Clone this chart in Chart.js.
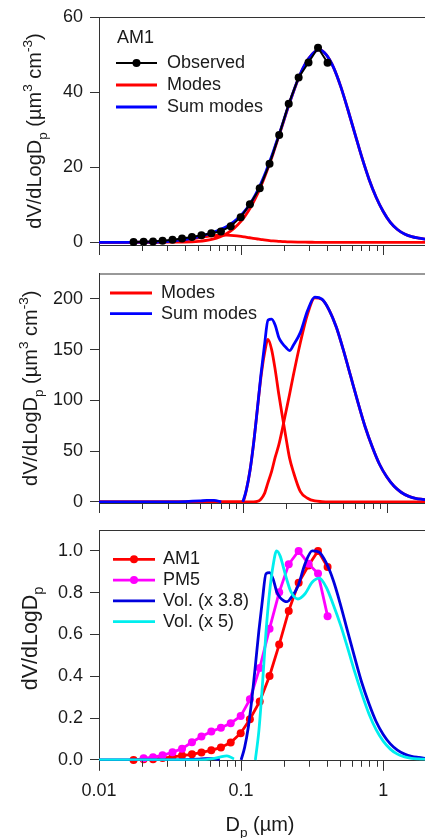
<!DOCTYPE html>
<html>
<head>
<meta charset="utf-8">
<script src="https://cdn.jsdelivr.net/npm/chart.js@4.4.1/dist/chart.umd.min.js"></script>
<style>
  html, body { margin: 0; padding: 0; background: #fff; overflow: hidden; }
  #wrap { position: relative; width: 425px; height: 838px; overflow: hidden; }
  #wrap canvas { position: absolute; left: 0; }
</style>
</head>
<body>
<div id="wrap">
  <canvas id="am1Chart" width="430" height="262" style="top:0"></canvas>
  <canvas id="modeChart" width="430" height="263" style="top:262px"></canvas>
  <canvas id="normChart" width="430" height="313" style="top:525px"></canvas>
</div>
<script>
// diameter grid (um) used by the fitted mode curves
const sizeGrid = [0.01, 0.0126, 0.0158, 0.02, 0.0251, 0.0316, 0.0398, 0.0501, 0.0562, 0.0631,
  0.0708, 0.0794, 0.0891, 0.1, 0.1059, 0.1122, 0.1189, 0.1259, 0.1334, 0.1413,
  0.1496, 0.1585, 0.1679, 0.1778, 0.1884, 0.1995, 0.2113, 0.2239, 0.2512, 0.2818,
  0.3162, 0.3548, 0.3981, 0.4467, 0.5012, 0.5623, 0.631, 0.7079, 0.7943, 0.8913,
  1.0, 1.122, 1.259, 1.413, 1.585, 1.778, 1.995];

// AM1 measured size bins
const obsSizes = [0.0175, 0.0206, 0.024, 0.028, 0.0329, 0.0384, 0.0451, 0.0526, 0.0617, 0.0721,
  0.0845, 0.0993, 0.1153, 0.1352, 0.1585, 0.1853, 0.2163, 0.254, 0.298, 0.3477, 0.406];
const am1Observed = [0.1, 0.15, 0.2, 0.4, 0.7, 1.0, 1.4, 1.9, 2.4, 2.9,
  4.3, 6.7, 10.1, 14.4, 20.9, 28.6, 36.9, 43.9, 47.9, 51.8, 47.8];

// top panel: two lognormal modes and their sum
const am1ModeSmall = [0, 0, 0, 0.02, 0.08, 0.26, 0.64, 1.21, 1.5, 1.74,
  1.88, 1.89, 1.78, 1.56, 1.42, 1.27, 1.12, 0.97, 0.83, 0.69,
  0.57, 0.46, 0.37, 0.29, 0.22, 0.17, 0.12, 0.09, 0.05, 0.02,
  0.01, 0, 0, 0, 0, 0, 0, 0, 0, 0,
  0, 0, 0, 0, 0, 0, 0];
const am1ModeLarge = [0, 0, 0, 0, 0, 0.02, 0.07, 0.26, 0.48, 0.85,
  1.44, 2.35, 3.71, 5.64, 6.85, 8.26, 9.86, 11.67, 13.68, 15.9,
  18.3, 20.9, 23.6, 26.5, 29.4, 32.3, 35.3, 38.1, 43.3, 47.4,
  50.1, 51.3, 49.9, 46.6, 41.6, 35.5, 29.0, 22.6, 16.8, 12.0,
  8.2, 5.3, 3.4, 2.2, 1.5, 1.1, 0.8];
const am1SumModes = [0, 0, 0, 0.02, 0.08, 0.28, 0.71, 1.47, 1.98, 2.59,
  3.32, 4.24, 5.49, 7.2, 8.27, 9.53, 10.98, 12.64, 14.51, 16.59,
  18.87, 21.36, 23.97, 26.79, 29.62, 32.47, 35.42, 38.19, 43.35, 47.42,
  50.11, 51.3, 49.9, 46.6, 41.6, 35.5, 29.0, 22.6, 16.8, 12.0,
  8.2, 5.3, 3.4, 2.2, 1.5, 1.1, 0.8];

// middle panel: volume modes
const volModeFine = [0, 0, 0, 0, 0, 0, 0, 0, 0, 0,
  0, 0, 0, 0, 12, 31, 58, 90, 122, 146,
  160, 150, 130, 106, 84, 63, 43, 30, 10, 3.5,
  0.8, 0.2, 0, 0, 0, 0, 0, 0, 0, 0,
  0, 0, 0, 0, 0, 0, 0];
const volModeCoarse = [0, 0, 0, 0, 0, 0, 0, 0, 0, 0,
  0, 0, 0, 0, 0, 0, 0, 0.3, 2.5, 8,
  19, 30, 44, 56, 72, 89, 106, 124, 157, 185,
  201, 199.5, 189, 172, 149, 123.5, 98, 74, 54, 37,
  24.6, 15.5, 9.4, 5.6, 3.4, 2.4, 1.7];
const volSumModes = [0, 0, 0, 0, 0, 0, 0.2, 0.8, 1.3, 1.3,
  0, null, null, 0, 12, 31, 58, 90.3, 124.5, 154,
  179, 180, 174, 162, 156, 152, 149, 154, 167, 188.5,
  201.8, 199.7, 189, 172, 149, 123.5, 98, 74, 54, 37,
  24.6, 15.5, 9.4, 5.6, 3.4, 2.4, 1.7];

// bottom panel: normalised distributions
const am1Norm = [0, 0.003, 0.004, 0.009, 0.015, 0.021, 0.027, 0.036, 0.046, 0.06,
  0.083, 0.128, 0.195, 0.28, 0.402, 0.552, 0.713, 0.848, 0.93, 1.0, 0.923];
const pm5Sizes = [0.0206, 0.024, 0.028, 0.0329, 0.0384, 0.0451, 0.0526, 0.0617, 0.0721, 0.0845,
  0.0993, 0.1153, 0.1352, 0.1585, 0.1853, 0.2163, 0.254, 0.298, 0.3477, 0.406];
const pm5Norm = [0.008, 0.013, 0.022, 0.037, 0.054, 0.085, 0.112, 0.136, 0.154, 0.176,
  0.21, 0.29, 0.44, 0.628, 0.802, 0.936, 1.0, 0.938, 0.892, 0.688];
const volScaled38 = [0, 0, 0, 0, 0, 0, 0.001, 0.004, 0.0065, 0.0065,
  0, null, null, 0, 0.06, 0.154, 0.289, 0.449, 0.619, 0.766,
  0.891, 0.896, 0.866, 0.806, 0.776, 0.762, 0.757, 0.775, 0.831, 0.938,
  1.0, 0.994, 0.941, 0.856, 0.741, 0.614, 0.488, 0.368, 0.269, 0.184,
  0.122, 0.077, 0.047, 0.028, 0.017, 0.012, 0.008];
const volScaled5 = [0, 0, 0, 0, 0, 0, 0, 0, 0.002, 0.006,
  0.014, 0.02, 0.005, null, null, null, null, 0, 0.14, 0.36,
  0.61, 0.8, 0.93, 1.0, 0.975, 0.915, 0.855, 0.805, 0.77, 0.795,
  0.85, 0.87, 0.825, 0.74, 0.645, 0.535, 0.42, 0.315, 0.22, 0.145,
  0.09, 0.052, 0.028, 0.015, 0.008, 0.005, 0.003];

// axis ticks
const xTickValues = [0.01, 0.02, 0.03, 0.04, 0.05, 0.06, 0.07, 0.08, 0.09,
  0.1, 0.2, 0.3, 0.4, 0.5, 0.6, 0.7, 0.8, 0.9, 1, 2];
const xMajorTicks = [0.01, 0.1, 1];
const yTicksAm1 = [0, 20, 40, 60];
const yTicksVol = [0, 50, 100, 150, 200];
const yTicksNorm = [0, 0.2, 0.4, 0.6, 0.8, 1.0];

const fontFamily = '"Liberation Sans", Arial, Helvetica, sans-serif';
const axisColor = '#333';
const textColor = '#1a1a1a';
Chart.defaults.font.family = fontFamily;
Chart.defaults.color = textColor;

const pts = (xs, ys) => xs.map((x, i) => ({ x: x, y: ys[i] }));

function curve(label, xs, ys, color, order) {
  return {
    label: label, data: pts(xs, ys), order: order,
    borderColor: color, backgroundColor: color, borderWidth: 2.8,
    pointRadius: 0, cubicInterpolationMode: 'monotone'
  };
}

function markers(label, xs, ys, color, order, width) {
  return {
    label: label, data: pts(xs, ys), order: order, clip: false,
    borderColor: color, backgroundColor: color, borderWidth: width,
    pointRadius: 4, pointBorderWidth: 0, pointBackgroundColor: color, tension: 0
  };
}

// frame line on top and the log ticks under the bottom axis
const frame = {
  id: 'frame',
  afterDraw(chart) {
    const { ctx, chartArea: a, scales: { x } } = chart;
    ctx.save();
    ctx.strokeStyle = axisColor;
    ctx.lineWidth = 1;
    ctx.beginPath();
    ctx.moveTo(a.left, a.top + 0.5);
    ctx.lineTo(a.right, a.top + 0.5);
    x.ticks.forEach(t => {
      const px = Math.round(x.getPixelForValue(t.value)) + 0.5;
      const len = xMajorTicks.includes(t.value) ? 10 : 6;
      ctx.moveTo(px, a.bottom);
      ctx.lineTo(px, a.bottom + len);
    });
    ctx.stroke();
    ctx.restore();
  }
};

// text runs with sub/superscripts, centred on (0,0)
function drawRuns(ctx, runs, size) {
  const small = size * 0.68;
  let total = 0;
  runs.forEach(r => {
    ctx.font = (r.sub || r.sup ? small : size) + 'px ' + fontFamily;
    total += ctx.measureText(r.t).width;
  });
  let x = -total / 2;
  runs.forEach(r => {
    ctx.font = (r.sub || r.sup ? small : size) + 'px ' + fontFamily;
    const dy = r.sub ? size * 0.3 : r.sup ? -size * 0.45 : 0;
    ctx.fillText(r.t, x, dy);
    x += ctx.measureText(r.t).width;
  });
}

const axisTitles = {
  id: 'axisTitles',
  afterDraw(chart, args, o) {
    const { ctx, chartArea: a } = chart;
    ctx.save();
    ctx.fillStyle = textColor;
    ctx.textBaseline = 'alphabetic';
    ctx.textAlign = 'left';
    if (o.y) {
      ctx.save();
      ctx.translate(o.yX, (a.top + a.bottom) / 2 + (o.yShift || 0));
      ctx.rotate(-Math.PI / 2);
      drawRuns(ctx, o.y, o.ySize || o.size);
      ctx.restore();
    }
    if (o.x) {
      ctx.save();
      ctx.translate(o.xX, o.xY);
      drawRuns(ctx, o.x, o.size);
      ctx.restore();
    }
    ctx.restore();
  }
};

// in-plot key, one row per distinct dataset label
const key = {
  id: 'key',
  afterDraw(chart, args, o) {
    const ctx = chart.ctx;
    ctx.save();
    ctx.font = o.size + 'px ' + fontFamily;
    ctx.textBaseline = 'middle';
    ctx.fillStyle = textColor;
    if (o.title) ctx.fillText(o.title, o.titleX, o.titleY);
    const seen = new Set();
    let y = o.y;
    chart.data.datasets.forEach(ds => {
      if (seen.has(ds.label)) return;
      seen.add(ds.label);
      ctx.strokeStyle = ds.borderColor;
      ctx.lineWidth = ds.borderWidth;
      ctx.beginPath();
      ctx.moveTo(o.x, y);
      ctx.lineTo(o.x + o.len, y);
      ctx.stroke();
      if (ds.pointRadius > 0) {
        ctx.fillStyle = ds.pointBackgroundColor;
        ctx.beginPath();
        ctx.arc(o.x + o.len / 2, y, ds.pointRadius, 0, Math.PI * 2);
        ctx.fill();
      }
      ctx.fillStyle = textColor;
      ctx.fillText(ds.label, o.x + o.len + o.gap, y);
      y += o.rowH;
    });
    ctx.restore();
  }
};

const dvTitle = [{ t: 'dV/dLogD' }, { t: 'p', sub: true }, { t: ' (\u00b5m' }, { t: '3', sup: true },
  { t: ' cm' }, { t: '-3', sup: true }, { t: ')' }];

function makePanel(id, p) {
  return new Chart(document.getElementById(id), {
    type: 'line',
    data: { datasets: p.datasets },
    options: {
      responsive: false,
      animation: false,
      events: [],
      layout: { padding: { top: p.padTop, left: 0, right: 0, bottom: 0 } },
      scales: {
        x: {
          type: 'logarithmic', min: 0.01, max: 2,
          afterBuildTicks: s => { s.ticks = xTickValues.map(v => ({ value: v })); },
          afterFit: s => { s.height = p.xHeight; s.paddingLeft = 0; s.paddingRight = 0; },
          grid: { display: false, drawTicks: false },
          border: { display: true, color: axisColor, width: 1 },
          ticks: {
            display: !!p.xLabels, autoSkip: false, maxRotation: 0, padding: 19,
            color: textColor, font: { size: 18 },
            callback: v => xMajorTicks.includes(v) ? String(v) : ''
          }
        },
        y: {
          min: p.yMin, max: p.yMax,
          afterBuildTicks: s => { s.ticks = p.yTicks.map(v => ({ value: v })); },
          afterFit: s => { s.width = 99; s.paddingTop = 0; s.paddingBottom = 0; },
          grid: { drawOnChartArea: false, tickLength: 9, tickColor: axisColor, tickWidth: 1 },
          border: { color: axisColor, width: 1 },
          ticks: { padding: 7, autoSkip: false, color: textColor, font: { size: 18 }, callback: p.yFormat }
        }
      },
      plugins: {
        legend: { display: false },
        tooltip: { enabled: false },
        axisTitles: p.titles,
        key: p.key
      }
    },
    plugins: [frame, axisTitles, key]
  });
}

makePanel('am1Chart', {
  padTop: 17, xHeight: 17, yMin: -0.72, yMax: 60, yTicks: yTicksAm1,
  yFormat: v => String(v),
  datasets: [
    markers('Observed', obsSizes, am1Observed, '#000000', 0, 2),
    curve('Modes', sizeGrid, am1ModeSmall, '#ff0000', 2),
    curve('Modes', sizeGrid, am1ModeLarge, '#ff0000', 2),
    curve('Sum modes', sizeGrid, am1SumModes, '#0000ff', 1)
  ],
  titles: { y: dvTitle, yX: 41, size: 20 },
  key: { title: 'AM1', titleX: 117, titleY: 38, x: 116, y: 63, len: 41, gap: 10, rowH: 22, size: 18 }
});

makePanel('modeChart', {
  padTop: 11.5, xHeight: 22, yMin: -1.2, yMax: 225, yTicks: yTicksVol,
  yFormat: v => String(v),
  datasets: [
    curve('Modes', sizeGrid, volModeFine, '#ff0000', 2),
    curve('Modes', sizeGrid, volModeCoarse, '#ff0000', 2),
    curve('Sum modes', sizeGrid, volSumModes, '#0000ff', 1)
  ],
  titles: { y: dvTitle, yX: 37, size: 20 },
  key: { x: 110, y: 31, len: 42, gap: 9, rowH: 20.7, size: 18 }
});

makePanel('normChart', {
  padTop: 5, xHeight: 77.2, yMin: -0.004, yMax: 1.1, yTicks: yTicksNorm, xLabels: true,
  yFormat: v => v.toFixed(1),
  datasets: [
    markers('AM1', obsSizes, am1Norm, '#ff0000', 4, 2.8),
    markers('PM5', pm5Sizes, pm5Norm, '#ff00ff', 3, 2.8),
    curve('Vol. (x 3.8)', sizeGrid, volScaled38, '#0000dd', 2),
    curve('Vol. (x 5)', sizeGrid, volScaled5, '#00eeee', 1)
  ],
  titles: { y: [{ t: 'dV/dLogD' }, { t: 'p', sub: true }], yX: 37, size: 20, ySize: 21.5, yShift: -7,
    x: [{ t: 'D' }, { t: 'p', sub: true }, { t: ' (\u00b5m)' }], xX: 260, xY: 306 },
  key: { x: 113, y: 34.3, len: 42, gap: 8, rowH: 20.8, size: 18 }
});
</script>
</body>
</html>
